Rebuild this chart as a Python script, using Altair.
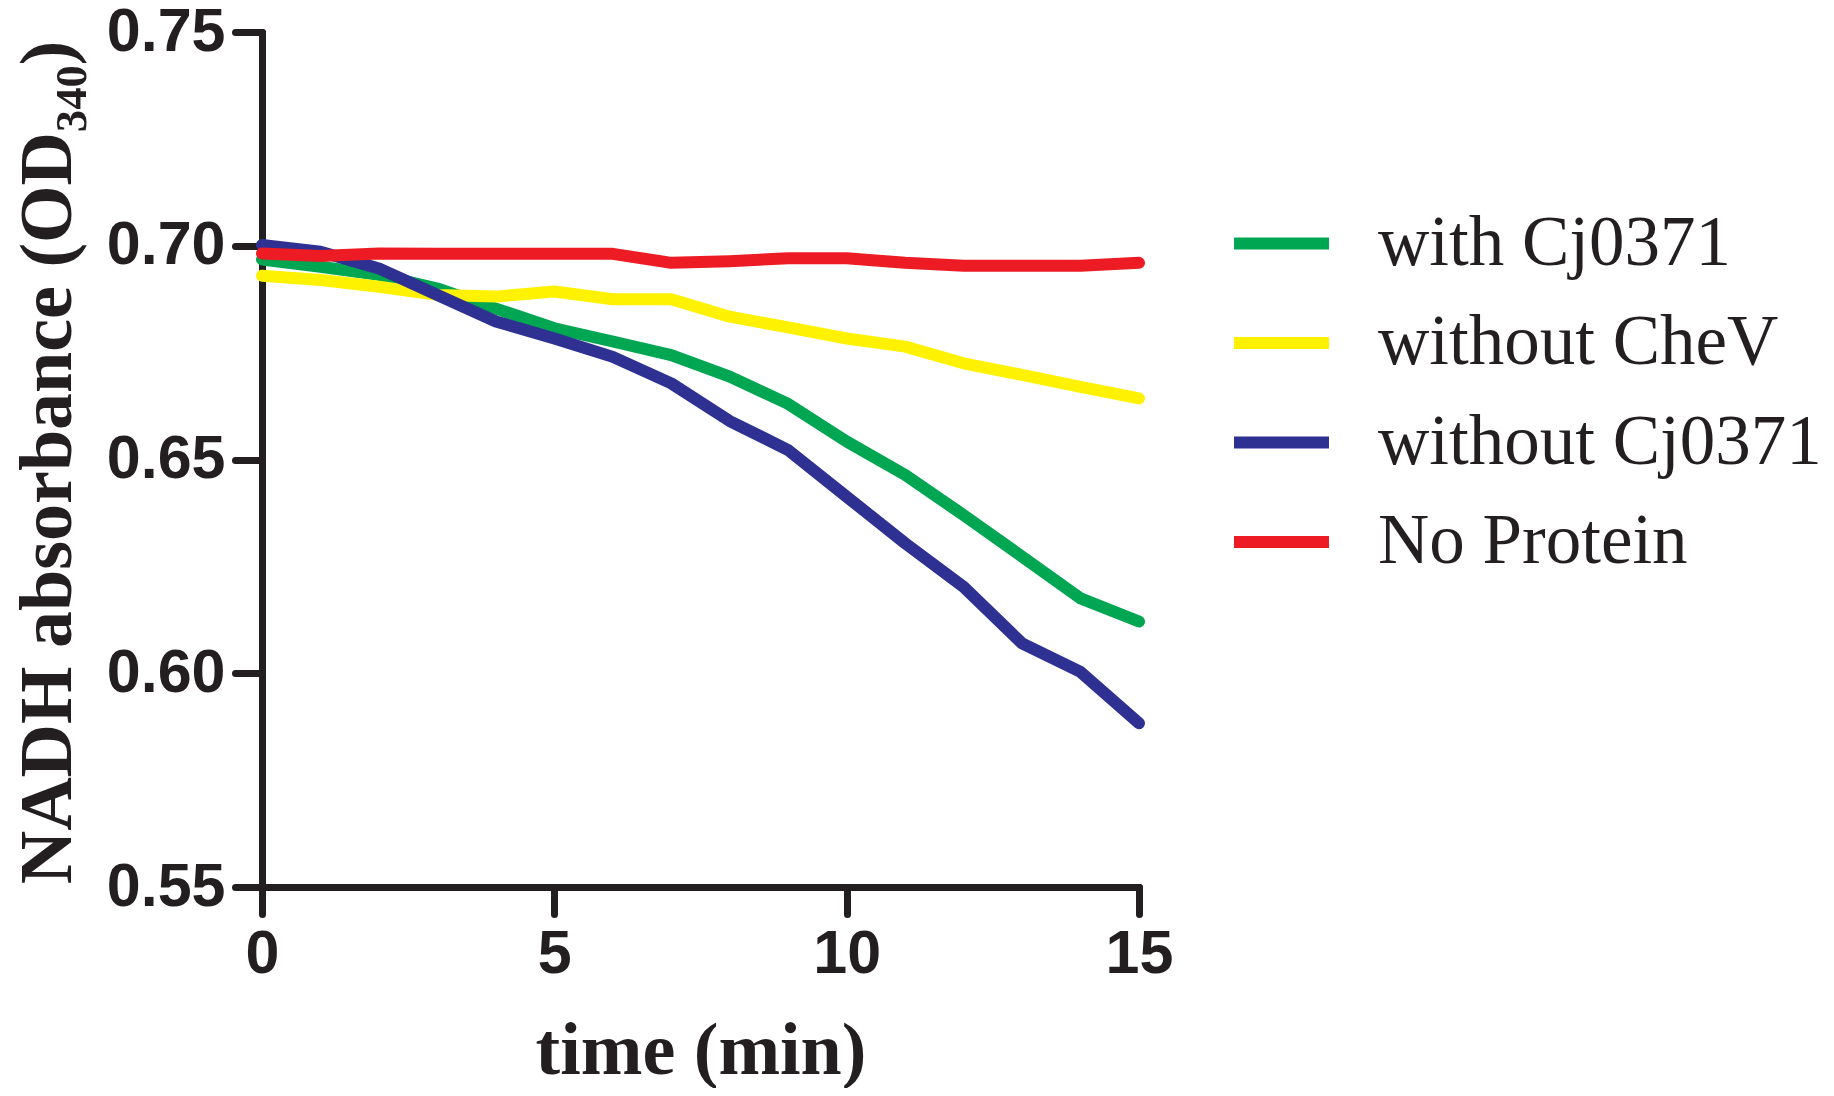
import altair as alt
import pandas as pd

# ---- data ----
time_min = list(range(16))
series_names = ["with Cj0371", "without CheV", "without Cj0371", "No Protein"]
with_cj0371 = [0.6968, 0.6951, 0.6932, 0.6900, 0.6853, 0.6807, 0.6776, 0.6744,
               0.6694, 0.6630, 0.6542, 0.6464, 0.6370, 0.6273, 0.6175, 0.6121]
without_chev = [0.6930, 0.6920, 0.6904, 0.6885, 0.6881, 0.6893, 0.6875, 0.6875,
                0.6834, 0.6809, 0.6783, 0.6764, 0.6725, 0.6698, 0.6670, 0.6643]
without_cj0371 = [0.7002, 0.6986, 0.6947, 0.6885, 0.6823, 0.6783, 0.6740, 0.6678,
                  0.6590, 0.6522, 0.6413, 0.6304, 0.6202, 0.6070, 0.6003, 0.5883]
no_protein = [0.6982, 0.6976, 0.6982, 0.6981, 0.6981, 0.6981, 0.6981, 0.6960,
              0.6964, 0.6971, 0.6971, 0.6960, 0.6953, 0.6953, 0.6953, 0.6960]
series_colors = ["#00A651", "#FFF200", "#2E3192", "#ED1C24"]
x_ticks = [0, 5, 10, 15]
y_ticks = [0.55, 0.60, 0.65, 0.70, 0.75]

rows = []
for name, vals in zip(series_names, [with_cj0371, without_chev, without_cj0371, no_protein]):
    for t, v in zip(time_min, vals):
        rows.append({"time": t, "absorbance": v, "series": name})
df = pd.DataFrame(rows)

INK = "#231f20"

chart = alt.Chart(df).mark_line(strokeWidth=12, strokeCap="round", strokeJoin="round").encode(
    x=alt.X("time:Q",
            scale=alt.Scale(domain=[0, 15], nice=False),
            axis=alt.Axis(values=x_ticks, title="time (min)", format="d", labelFlush=False,
                          titleY=186, titleBaseline="alphabetic")),
    y=alt.Y("absorbance:Q",
            scale=alt.Scale(domain=[0.55, 0.75], nice=False, zero=False),
            axis=alt.Axis(values=y_ticks, format=".2f", title="NADH absorbance (OD₃₄₀)",
                          labelFlush=False,
                          titleX=-192, titleY=430, titleAngle=-90,
                          titleBaseline="alphabetic", titleAlign="center")),
    color=alt.Color("series:N",
                    scale=alt.Scale(domain=series_names, range=series_colors),
                    legend=alt.Legend(title=None, orient="none", legendX=966, legendY=158,
                                      symbolType="stroke", symbolSize=9025,
                                      symbolStrokeWidth=12, labelFont="Liberation Serif",
                                      labelFontSize=71, labelColor=INK, labelOffset=43,
                                      rowPadding=10.5, padding=0, labelLimit=700)),
).properties(
    width=877, height=855,
    autosize=alt.AutoSizeParams(type="none"),
    padding={"left": 254, "top": 24, "right": 687, "bottom": 201},
).configure_view(
    stroke=None
).configure_axis(
    grid=False,
    domainColor=INK, domainWidth=7, domainCap="round",
    tickColor=INK, tickWidth=7, tickSize=27, tickCap="round",
    labelFont="Liberation Sans", labelFontWeight="bold", labelFontSize=61,
    labelColor=INK, labelPadding=10,
    titleFont="Liberation Serif", titleFontWeight="bold", titleFontSize=74,
    titleColor=INK,
).configure_axisX(
    titleFontSize=74
)

chart.save("out.html", embed_options={"renderer": "svg", "actions": False})
